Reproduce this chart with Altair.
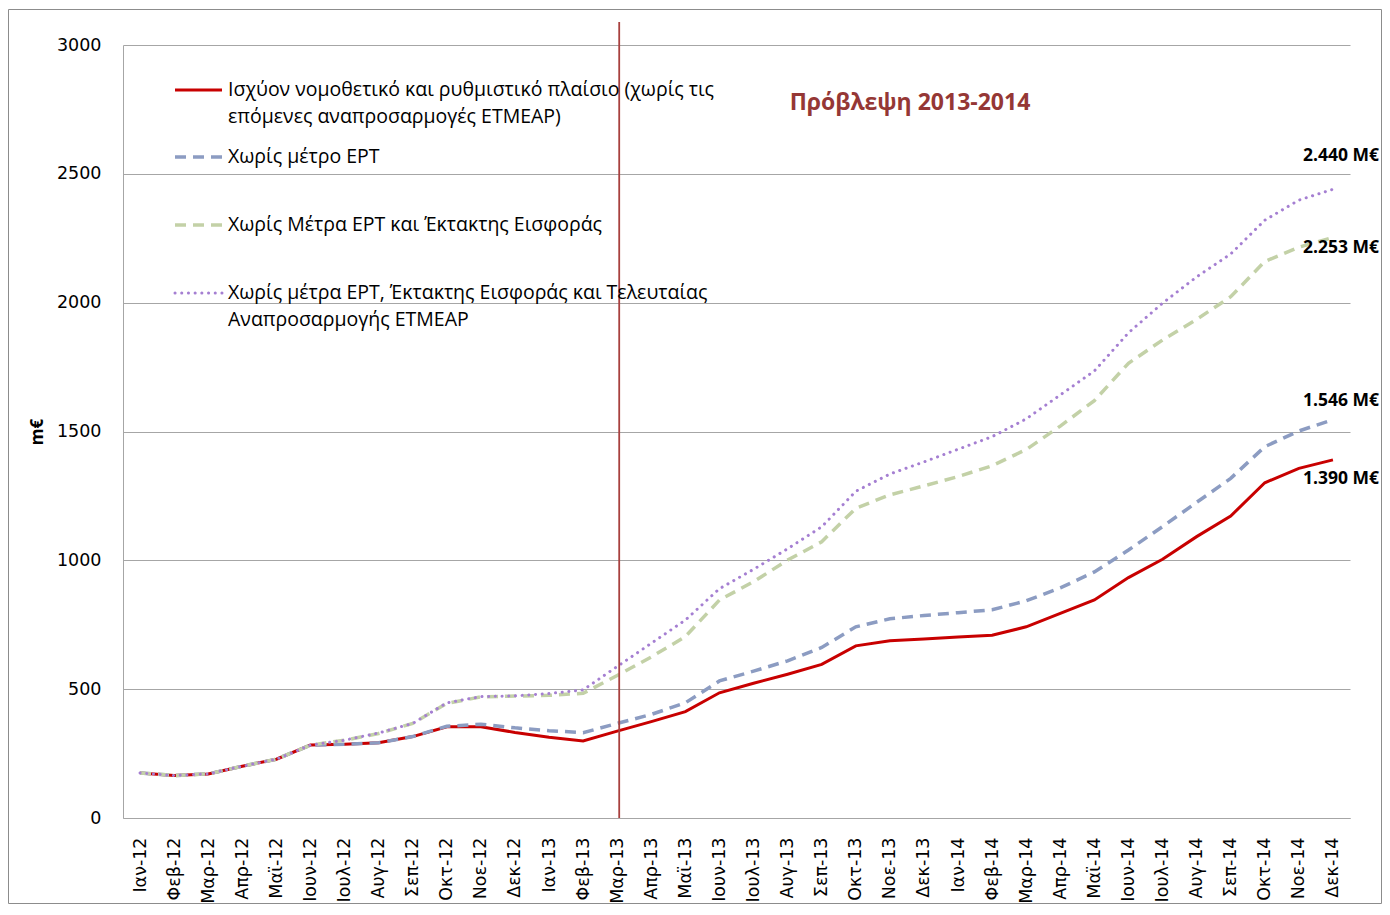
import altair as alt
import pandas as pd

months = ["Ιαν-12", "Φεβ-12", "Μαρ-12", "Απρ-12", "Μαϊ-12", "Ιουν-12", "Ιουλ-12", "Αυγ-12",
          "Σεπ-12", "Οκτ-12", "Νοε-12", "Δεκ-12",
          "Ιαν-13", "Φεβ-13", "Μαρ-13", "Απρ-13", "Μαϊ-13", "Ιουν-13", "Ιουλ-13", "Αυγ-13",
          "Σεπ-13", "Οκτ-13", "Νοε-13", "Δεκ-13",
          "Ιαν-14", "Φεβ-14", "Μαρ-14", "Απρ-14", "Μαϊ-14", "Ιουν-14", "Ιουλ-14", "Αυγ-14",
          "Σεπ-14", "Οκτ-14", "Νοε-14", "Δεκ-14"]

current = [175, 165, 171, 201, 228, 283, 286, 292, 316, 354, 354, 332,
           313, 299, 337, 374, 413, 486, 523, 558, 596, 668, 688, 695,
           702, 709, 742, 794, 846, 933, 1004, 1092, 1172, 1301, 1357, 1390]

no_ert = [175, 165, 171, 201, 228, 283, 286, 292, 316, 356, 364, 350,
          339, 331, 367, 402, 447, 532, 570, 610, 662, 742, 773, 786,
          797, 808, 843, 893, 955, 1040, 1131, 1225, 1318, 1441, 1502, 1546]

no_ert_levy = [175, 165, 171, 201, 228, 283, 302, 328, 367, 445, 470, 473,
               476, 484, 553, 625, 704, 846, 917, 1001, 1072, 1202, 1254, 1289,
               1325, 1367, 1430, 1521, 1620, 1765, 1855, 1935, 2023, 2160, 2215, 2253]

no_all = [175, 165, 171, 201, 228, 283, 302, 330, 367, 447, 471, 474,
          483, 497, 588, 678, 768, 890, 965, 1045, 1130, 1268, 1335, 1382,
          1431, 1480, 1549, 1642, 1735, 1883, 1998, 2100, 2189, 2320, 2398, 2440]

series_names = ["current", "no_ert", "no_ert_levy", "no_all"]
series_values = [current, no_ert, no_ert_levy, no_all]

legend_labels = [
    ["Ισχύον νομοθετικό και ρυθμιστικό πλαίσιο (χωρίς τις", "επόμενες αναπροσαρμογές ΕΤΜΕΑΡ)"],
    ["Χωρίς μέτρο ΕΡΤ"],
    ["Χωρίς Μέτρα ΕΡΤ και Έκτακτης Εισφοράς"],
    ["Χωρίς μέτρα ΕΡΤ, Έκτακτης Εισφοράς και Τελευταίας", "Αναπροσαρμογής ΕΤΜΕΑΡ"],
]
end_labels = ["1.390 M€", "1.546 M€", "2.253 M€", "2.440 M€"]
forecast_title = "Πρόβλεψη 2013-2014"
forecast_start = "Μαρ-13"
y_ticks = [0, 500, 1000, 1500, 2000, 2500, 3000]

W, H = 1227, 773
PAD = {"left": 115, "top": 37, "right": 32, "bottom": 86}

rows = []
for name, vals in zip(series_names, series_values):
    for m, v in zip(months, vals):
        rows.append({"month": m, "series": name, "value": v})
df = pd.DataFrame(rows)

styles = {
    "current": dict(color="#C80000", strokeWidth=3),
    "no_ert": dict(color="#8C9CC2", strokeWidth=3.5, strokeDash=[11, 7]),
    "no_ert_levy": dict(color="#C3D1A7", strokeWidth=3.5, strokeDash=[11, 7]),
    "no_all": dict(color="#A57FD2", strokeWidth=3, strokeDash=[0.1, 6.6], strokeCap="round"),
}

x_enc = alt.X("month:N", sort=months,
              scale=alt.Scale(type="point", padding=0.5),
              axis=alt.Axis(title=None, labelAngle=-90, labelFont="DejaVu Sans",
                            labelFontSize=17.5, labelColor="#000000", labelPadding=19,
                            ticks=False, domainColor="#A6A6A6", grid=False))
y_enc = alt.Y("value:Q", scale=alt.Scale(domain=[0, 3000], nice=False),
              axis=alt.Axis(values=y_ticks, format="d", title="m€", titleFont="Open Sans",
                            titleFontSize=17, titleFontWeight="bold", titleColor="#000000",
                            titlePadding=10, labelFont="DejaVu Sans", labelFontSize=17.5,
                            labelColor="#000000", labelPadding=22, ticks=False,
                            domainColor="#A6A6A6", gridColor="#A6A6A6", grid=True))

base = alt.Chart(df)
layers = []
for i, name in enumerate(series_names):
    enc = dict(x=x_enc, y=y_enc) if i == 0 else dict(x=alt.X("month:N", sort=months), y="value:Q")
    layers.append(base.transform_filter(alt.datum.series == name)
                  .mark_line(**styles[name]).encode(**enc))

one = pd.DataFrame({"k": [0]})

# forecast divider
layers.append(alt.Chart(one).mark_rule(color="#A8403E", strokeWidth=1.8, xOffset=2).encode(
    x=alt.datum(forecast_start), y=alt.value(-23), y2=alt.value(H)))

# forecast title
layers.append(alt.Chart(one).mark_text(text=forecast_title, font="Open Sans", fontSize=23,
                                       fontWeight="bold", color="#953735", align="center",
                                       baseline="middle").encode(
    x=alt.value(787), y=alt.value(58)))

# end labels
end_dy = [19, -19, 11, -33]
for name, lab, dy in zip(series_names, end_labels, end_dy):
    layers.append(base.transform_filter((alt.datum.series == name) & (alt.datum.month == months[-1]))
                  .mark_text(text=lab, font="Open Sans", fontSize=17.5, fontWeight="bold",
                             color="#000000", align="left", baseline="middle", dx=-30, dy=dy)
                  .encode(x=alt.X("month:N", sort=months), y="value:Q"))

# legend
leg_y = [45, 112, 180, 248]
for name, lines, ly in zip(series_names, legend_labels, leg_y):
    st = dict(styles[name])
    layers.append(alt.Chart(one).mark_rule(**st).encode(
        x=alt.value(52), x2=alt.value(99), y=alt.value(ly)))
    for j, line in enumerate(lines):
        layers.append(alt.Chart(one).mark_text(text=line, font="Open Sans", fontSize=19.5,
                                               color="#000000", align="left",
                                               baseline="middle").encode(
            x=alt.value(105), y=alt.value(ly + 27 * j)))

# outer border
layers.append(alt.Chart(one).mark_rect(fill=None, stroke="#8C8C8C", strokeWidth=1).encode(
    x=alt.value(-PAD["left"] + 0.5), x2=alt.value(W + PAD["right"] - 0.5),
    y=alt.value(-PAD["top"] + 1.5), y2=alt.value(H + PAD["bottom"] - 0.5)))

chart = alt.layer(*layers).properties(
    width=W, height=H,
    autosize=alt.AutoSizeParams(type="none"),
    padding=PAD,
    background="#FFFFFF",
).configure_view(stroke=None)

chart.save("out.html", embed_options={"renderer": "svg", "actions": False})
